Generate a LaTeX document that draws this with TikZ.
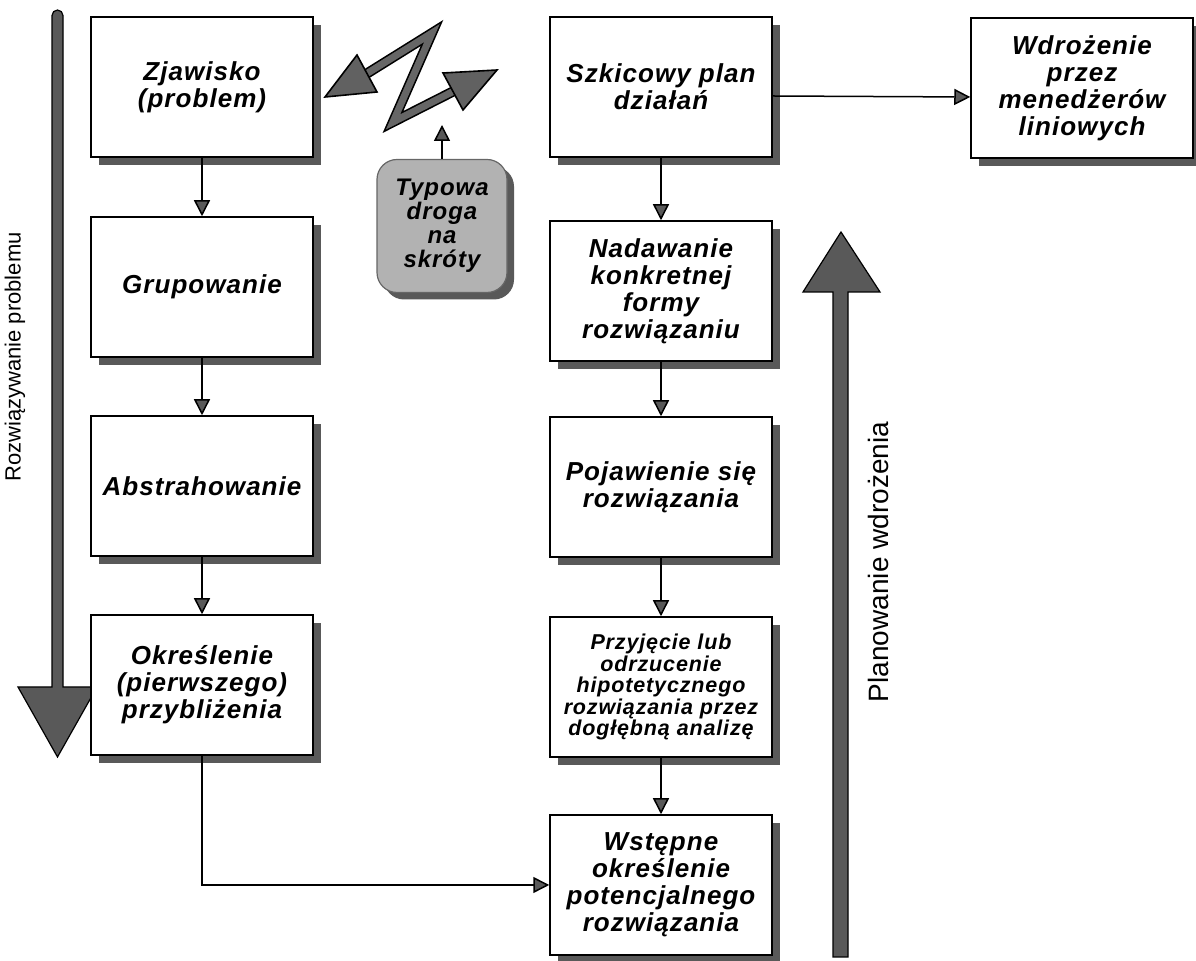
\documentclass[tikz,border=0pt]{standalone}
\usepackage{fontspec}
\setmainfont{Liberation Sans}
\newfontfamily\boxfont{Liberation Sans}[LetterSpace=4]
\usetikzlibrary{arrows.meta,shadows}
\tikzset{
  flowbox/.style={draw=black, line width=0.75pt, fill=white,
    minimum width=111pt, minimum height=70pt, align=center, inner sep=2pt,
    font=\boxfont\bfseries\itshape\fontsize{13}{13.5}\selectfont,
    drop shadow={shadow xshift=4pt, shadow yshift=-4pt, fill=black!65, opacity=1}},
  smalltext/.style={font=\boxfont\bfseries\itshape\fontsize{10.75}{10.75}\selectfont},
  shortbox/.style={draw=black!60, line width=0.6pt, fill=black!30, rounded corners=10pt,
    minimum width=65pt, minimum height=66.5pt, align=center, inner sep=1pt,
    font=\boxfont\bfseries\itshape\fontsize{12}{12}\selectfont,
    drop shadow={shadow xshift=3.5pt, shadow yshift=-3.5pt, fill=black!65, opacity=1}},
  arr/.style={line width=0.75pt, -{Triangle[length=8pt,width=8pt,fill=black!65]}},
  bigarrow/.style={fill=black!65, draw=black, line width=0.6pt},
  zig/.style={draw=black, line width=0.8pt, double=black!60, double distance=3.5pt, line join=miter},
  zighead/.style={fill=black!62, draw=black, line width=0.8pt, line join=miter},
  sidelabel/.style={rotate=90, inner sep=0pt}
}
\begin{document}
\begin{tikzpicture}[x=0.5pt,y=-0.5pt]
\useasboundingbox (0,0) rectangle (1196,961);

% big vertical arrows
\draw[bigarrow] (52,687) -- (52,15.5) .. controls (52,12.5) and (54.5,10) .. (57.5,10)
  .. controls (60.5,10) and (63,12.5) .. (63,15.5) -- (63,687) -- (97,687) -- (57.5,757) -- (18,687) -- cycle;
\draw[bigarrow] (833,957) -- (833,292) -- (803,292) -- (841,232) -- (880,292) -- (848,292) -- (848,957) -- cycle;

\node[sidelabel, font=\fontsize{11}{13}\selectfont] (lblA) at (15,357) {Rozwiązywanie problemu};
\node[sidelabel, font=\fontsize{14}{16}\selectfont] (lblB) at (878,562) {Planowanie wdrożenia};

% boxes, left column
\node[flowbox] (zj) at (202,87) {Zjawisko\\(problem)};
\node[flowbox] (gr) at (202,287) {Grupowanie};
\node[flowbox] (ab) at (202,486) {Abstrahowanie};
\node[flowbox] (ok) at (202,685) {Określenie\\(pierwszego)\\przybliżenia};

% boxes, right column
\node[flowbox] (sz) at (661,87) {Szkicowy plan\\działań};
\node[flowbox] (na) at (661,291) {Nadawanie\\konkretnej\\formy\\rozwiązaniu};
\node[flowbox] (po) at (661,487) {Pojawienie się\\rozwiązania};
\node[flowbox, smalltext] (pr) at (661,687) {Przyjęcie lub\\odrzucenie\\hipotetycznego\\rozwiązania przez\\dogłębną analizę};
\node[flowbox] (ws) at (661,885) {Wstępne\\określenie\\potencjalnego\\rozwiązania};
\node[flowbox] (wd) at (1082,88) {Wdrożenie\\przez\\menedżerów\\liniowych};

% shortcut box
\node[shortbox] (ty) at (442,226) {Typowa\\droga\\na\\skróty};
\coordinate (tyend) at (442,125);

% zigzag double arrow
\coordinate (zlt) at (325,97);
\coordinate (zlb1) at (357,55);
\coordinate (zlb2) at (377,92);
\coordinate (zls) at (367,73.5);
\coordinate (ztop) at (432,33);
\coordinate (zbot) at (393,122);
\coordinate (zrs) at (453,91.5);
\coordinate (zrt) at (497,70);
\coordinate (zrb1) at (443,73);
\coordinate (zrb2) at (463,110);
\draw[zig] (zls) -- (ztop) -- (zbot) -- (zrs);
\draw[zighead] (zlt) -- (zlb1) -- (zlb2) -- cycle;
\draw[zighead] (zrt) -- (zrb1) -- (zrb2) -- cycle;

% connectors
\draw[arr] (ty.north) -- (tyend);
\draw[arr] (zj.south) -- (gr.north);
\draw[arr] (gr.south) -- (ab.north);
\draw[arr] (ab.south) -- (ok.north);
\draw[arr] (ok.south) |- (ws.west);
\draw[arr] (sz.south) -- (na.north);
\draw[arr] (na.south) -- (po.north);
\draw[arr] (po.south) -- (pr.north);
\draw[arr] (pr.south) -- (ws.north);
\draw[arr] ([yshift=-4.5pt]sz.east) -- ([yshift=-4.5pt]wd.west);
\end{tikzpicture}
\end{document}
